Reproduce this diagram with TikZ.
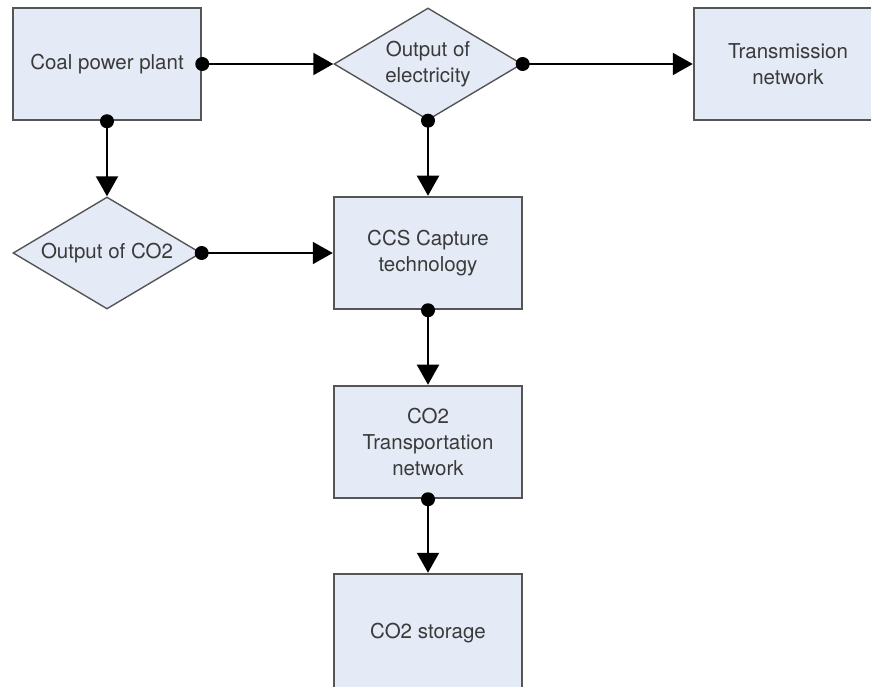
\documentclass[tikz,border=0pt]{standalone}
\usepackage{fontspec}
\setmainfont{TeX Gyre Heros}
\usetikzlibrary{shapes.geometric,arrows.meta}
\definecolor{boxfill}{HTML}{E5EBF6}
\definecolor{boxline}{HTML}{555555}
\definecolor{txt}{HTML}{3A3A3A}
\tikzset{
  stepbox/.style={rectangle,draw=boxline,line width=2.5pt,fill=boxfill,
    minimum width=188pt,minimum height=112pt,inner sep=0pt,
    align=center,text=txt,font=\fontsize{20.5}{26}\selectfont},
  decision/.style={diamond,draw=boxline,line width=1.4pt,fill=boxfill,
    minimum width=188pt,minimum height=112pt,inner sep=0pt},
  lbl/.style={align=center,text=txt,font=\fontsize{20.5}{26}\selectfont},
  conn/.style={line width=2pt,-{Triangle[length=20pt,width=22pt]}},
  dot/.style={fill=black}
}
\begin{document}
\begin{tikzpicture}[x=1pt,y=-1pt]
\useasboundingbox (0,0) rectangle (871,687);
% boxes and decisions
\node[stepbox] (coal) at (107,64) {Coal power plant};
\node[decision] (elec) at (428,64) {};
\node[lbl] at (elec) {Output of\\electricity};
\node[stepbox] (trans) at (788,64) {Transmission\\network};
\node[decision] (co2) at (107,253) {};
\node[lbl] at (co2) {Output of CO2};
\node[stepbox] (ccs) at (428,253) {CCS Capture\\technology};
\node[stepbox] (transp) at (428,442) {CO2\\Transportation\\network};
\node[stepbox, minimum height=118pt] (store) at (428,633) {CO2 storage};
% connectors
\draw[conn] (coal.east) -- (elec.west);
\draw[conn] (elec.east) -- (trans.west);
\draw[conn] (coal.south) -- (co2.north);
\draw[conn] (elec.south) -- (ccs.north);
\draw[conn] (co2.east) -- (ccs.west);
\draw[conn] (ccs.south) -- (transp.north);
\draw[conn] (transp.south) -- (store.north);
% start dots
\foreach \p in {coal.east,elec.east,coal.south,elec.south,co2.east,ccs.south,transp.south}
  \fill[dot] (\p) circle (7pt);
\end{tikzpicture}
\end{document}
